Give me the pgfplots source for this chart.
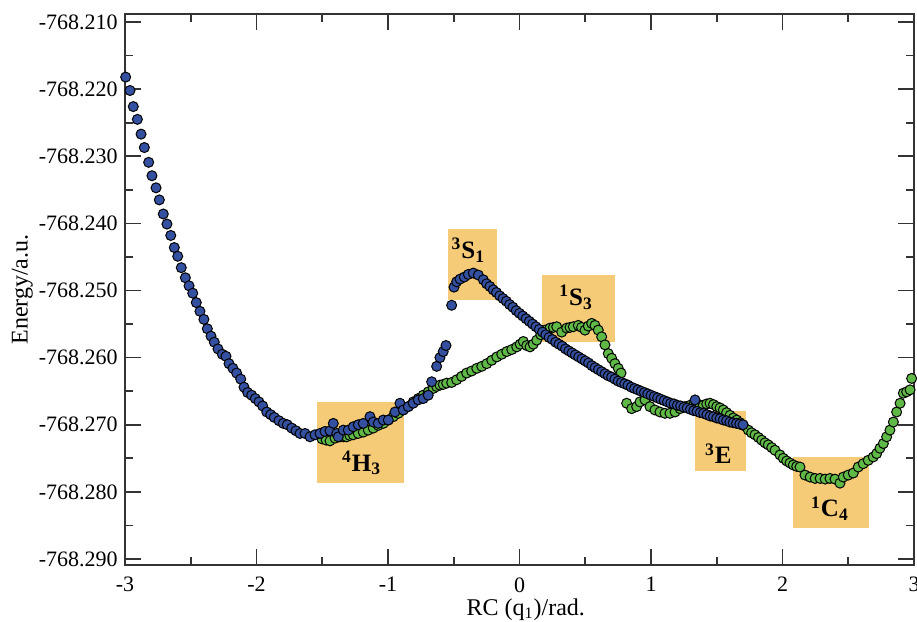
\documentclass[border=0pt]{standalone}
\usepackage{fontspec}
\setmainfont{Liberation Serif}
\usepackage{pgfplots}
\pgfplotsset{compat=1.18}

\definecolor{blueM}{RGB}{52,80,160}
\definecolor{greenM}{RGB}{95,185,70}
\definecolor{boxO}{RGB}{246,203,120}

% energies are stored as E + 768 (a.u.) to keep pgfplots' precision
\begin{document}
\begin{tikzpicture}
\begin{axis}[
  set layers,
  scale only axis,
  width=394.5pt, height=275.5pt,
  xmin=-3, xmax=3,
  ymin=-0.2909, ymax=-0.2088,
  clip=false,
  xtick={-3,-2,-1,0,1,2,3},
  xticklabels={-3,-2,-1,0,1,2,3},
  ytick={-0.29,-0.28,-0.27,-0.26,-0.25,-0.24,-0.23,-0.22,-0.21},
  yticklabels={-768.290,-768.280,-768.270,-768.260,-768.250,-768.240,-768.230,-768.220,-768.210},
  minor x tick num=1, minor y tick num=1,
  tick align=inside,
  major tick length=8pt, minor tick length=4pt,
  tick style={black!80, line width=0.8pt},
  axis line style={black!80, line width=1pt},
  ticklabel style={font=\fontsize{11}{13}\selectfont},
  yticklabel style={anchor=east, inner sep=0pt, xshift=-3.5pt},
  xticklabel style={anchor=north, inner sep=0pt, yshift=-6pt},
  xlabel={RC (q\textsubscript{1})/rad.},
  ylabel={Energy/a.u.},
  label style={font=\fontsize{12}{14}\selectfont},
  xlabel style={at={(axis description cs:0.508,-0.060)}, anchor=north, inner sep=0pt},
  ylabel style={at={(axis description cs:-0.1300,0.5)}, anchor=center, inner sep=0pt},
]

% conformation boxes
\fill[boxO, on layer=axis background] (axis cs:-1.542,-0.26667) rectangle (axis cs:-0.876,-0.27864);
\fill[boxO, on layer=axis background] (axis cs:-0.541,-0.24089) rectangle (axis cs:-0.173,-0.25142);
\fill[boxO, on layer=axis background] (axis cs:0.173,-0.24770) rectangle (axis cs:0.726,-0.25764);
\fill[boxO, on layer=axis background] (axis cs:1.335,-0.26792) rectangle (axis cs:1.720,-0.27686);
\fill[boxO, on layer=axis background] (axis cs:2.078,-0.27486) rectangle (axis cs:2.660,-0.28544);

% green series
\addplot[only marks, mark=*, mark size=2.5pt, mark options={draw=black, fill=greenM, line width=0.5pt}] coordinates {
(-1.502,-0.2721) (-1.470,-0.2723) (-1.441,-0.2724) (-1.403,-0.2720) (-1.365,-0.2718)
(-1.340,-0.2718) (-1.314,-0.2718) (-1.290,-0.2716) (-1.264,-0.2715) (-1.226,-0.2713)
(-1.188,-0.2711) (-1.150,-0.2708) (-1.112,-0.2705) (-1.074,-0.2701) (-1.036,-0.2698)
(-0.998,-0.2693) (-0.960,-0.2688) (-0.922,-0.2683) (-0.884,-0.2678) (-0.846,-0.2673)
(-0.808,-0.2666) (-0.770,-0.2661) (-0.732,-0.2656) (-0.694,-0.2651) (-0.656,-0.2646)
(-0.630,-0.2643) (-0.605,-0.2641) (-0.580,-0.2640) (-0.554,-0.2638) (-0.516,-0.2637)
(-0.478,-0.2633) (-0.440,-0.2628) (-0.402,-0.2623) (-0.364,-0.2620) (-0.325,-0.2616)
(-0.287,-0.2613) (-0.249,-0.2609) (-0.211,-0.2604) (-0.173,-0.2599) (-0.135,-0.2595)
(-0.097,-0.2591) (-0.059,-0.2588) (-0.021,-0.2584) (0.005,-0.2580) (0.029,-0.2576)
(0.055,-0.2582) (0.080,-0.2584) (0.105,-0.2580) (0.131,-0.2574) (0.162,-0.2566)
(0.194,-0.2559) (0.232,-0.2556) (0.258,-0.2555) (0.283,-0.2554) (0.321,-0.2562)
(0.359,-0.2556) (0.384,-0.2555) (0.409,-0.2554) (0.447,-0.2552) (0.472,-0.2555)
(0.498,-0.2559) (0.523,-0.2553) (0.549,-0.2549) (0.574,-0.2552) (0.599,-0.2559)
(0.625,-0.2569) (0.650,-0.2581) (0.675,-0.2594) (0.701,-0.2601) (0.726,-0.2609)
(0.751,-0.2616) (0.772,-0.2623)
(0.815,-0.2668) (0.853,-0.2676) (0.891,-0.2673) (0.916,-0.2666) (0.954,-0.2663)
(0.992,-0.2673) (1.030,-0.2678) (1.068,-0.2681) (1.106,-0.2683) (1.144,-0.2683)
(1.183,-0.2681) (1.221,-0.2676) (1.259,-0.2673) (1.297,-0.2671) (1.322,-0.2671)
(1.348,-0.2671) (1.373,-0.2671) (1.398,-0.2671) (1.424,-0.2669) (1.449,-0.2668)
(1.475,-0.2670) (1.500,-0.2673) (1.525,-0.2675) (1.550,-0.2678) (1.575,-0.2682)
(1.601,-0.2686) (1.626,-0.2690) (1.652,-0.2693) (1.677,-0.2697) (1.702,-0.2701)
(1.740,-0.2708) (1.765,-0.2712) (1.791,-0.2715) (1.817,-0.2719) (1.842,-0.2723)
(1.867,-0.2727) (1.892,-0.2730) (1.918,-0.2734) (1.943,-0.2738) (1.981,-0.2745)
(2.006,-0.2750) (2.032,-0.2754) (2.057,-0.2757) (2.082,-0.2760) (2.108,-0.2762)
(2.133,-0.2763) (2.171,-0.2775) (2.210,-0.2778) (2.248,-0.2780) (2.286,-0.2780)
(2.324,-0.2781) (2.361,-0.2780) (2.399,-0.2781) (2.437,-0.2787) (2.462,-0.2778)
(2.500,-0.2775) (2.538,-0.2772) (2.576,-0.2763) (2.614,-0.2758) (2.652,-0.2753)
(2.690,-0.2748) (2.716,-0.2743) (2.741,-0.2735) (2.767,-0.2728) (2.792,-0.2718)
(2.817,-0.2708) (2.843,-0.2696) (2.868,-0.2681) (2.894,-0.2668) (2.919,-0.2653)
(2.944,-0.2651) (2.970,-0.2648) (2.982,-0.2631)
};

% blue series
\addplot[only marks, mark=*, mark size=2.5pt, mark options={draw=black, fill=blueM, line width=0.5pt}] coordinates {
(-2.995,-0.2182) (-2.962,-0.2202) (-2.937,-0.2226) (-2.906,-0.2245) (-2.878,-0.2267)
(-2.853,-0.2287) (-2.820,-0.2309) (-2.795,-0.2329) (-2.764,-0.2347) (-2.739,-0.2365)
(-2.709,-0.2386) (-2.681,-0.2401) (-2.652,-0.2418) (-2.625,-0.2436) (-2.599,-0.2449)
(-2.572,-0.2466) (-2.541,-0.2481) (-2.513,-0.2493) (-2.485,-0.2504) (-2.458,-0.2518)
(-2.430,-0.2531) (-2.400,-0.2543) (-2.374,-0.2557) (-2.346,-0.2568) (-2.321,-0.2577)
(-2.293,-0.2587) (-2.260,-0.2595) (-2.232,-0.2598) (-2.209,-0.2609) (-2.179,-0.2616)
(-2.151,-0.2623) (-2.120,-0.2632) (-2.095,-0.2644) (-2.067,-0.2652) (-2.037,-0.2656)
(-2.009,-0.2661) (-1.981,-0.2666) (-1.953,-0.2672) (-1.922,-0.2681) (-1.892,-0.2685)
(-1.865,-0.2689) (-1.829,-0.2694) (-1.796,-0.2698) (-1.766,-0.2700) (-1.732,-0.2705)
(-1.700,-0.2709) (-1.669,-0.2713) (-1.631,-0.2713) (-1.593,-0.2718) (-1.555,-0.2715)
(-1.517,-0.2713) (-1.479,-0.2710) (-1.441,-0.2709) (-1.416,-0.2698) (-1.390,-0.2713)
(-1.378,-0.2718) (-1.340,-0.2708) (-1.302,-0.2708) (-1.264,-0.2703) (-1.226,-0.2700)
(-1.188,-0.2698) (-1.137,-0.2688) (-1.112,-0.2696) (-1.074,-0.2698) (-1.036,-0.2693)
(-0.998,-0.2693) (-0.947,-0.2681) (-0.909,-0.2668) (-0.884,-0.2678) (-0.846,-0.2673)
(-0.808,-0.2668) (-0.770,-0.2663) (-0.732,-0.2661) (-0.694,-0.2656) (-0.668,-0.2636)
(-0.630,-0.2613) (-0.605,-0.2600) (-0.580,-0.2591) (-0.559,-0.2582) (-0.516,-0.2522)
(-0.498,-0.2495) (-0.478,-0.2487) (-0.452,-0.2483) (-0.420,-0.2480) (-0.389,-0.2476)
(-0.351,-0.2474) (-0.313,-0.2477) (-0.275,-0.2484)
(-0.250,-0.2490) (-0.225,-0.2494) (-0.200,-0.2499) (-0.175,-0.2503) (-0.150,-0.2508)
(-0.125,-0.2512) (-0.100,-0.2516) (-0.075,-0.2521) (-0.050,-0.2525) (-0.025,-0.2530)
(0.000,-0.2534) (0.025,-0.2538) (0.050,-0.2542) (0.075,-0.2546) (0.100,-0.2550)
(0.125,-0.2554) (0.150,-0.2558) (0.175,-0.2562) (0.200,-0.2566) (0.225,-0.2570)
(0.250,-0.2573) (0.275,-0.2577) (0.300,-0.2580) (0.325,-0.2583) (0.350,-0.2587)
(0.375,-0.2590) (0.400,-0.2593) (0.425,-0.2596) (0.450,-0.2599) (0.475,-0.2602)
(0.500,-0.2605) (0.525,-0.2608) (0.550,-0.2612) (0.575,-0.2615) (0.600,-0.2618)
(0.625,-0.2621) (0.650,-0.2624) (0.675,-0.2627) (0.700,-0.2629) (0.725,-0.2632)
(0.750,-0.2635) (0.775,-0.2637) (0.800,-0.2639) (0.825,-0.2641) (0.850,-0.2644)
(0.875,-0.2646) (0.900,-0.2648) (0.925,-0.2650) (0.950,-0.2652) (0.975,-0.2654)
(1.000,-0.2656) (1.025,-0.2658) (1.050,-0.2660) (1.075,-0.2662) (1.100,-0.2664)
(1.125,-0.2666) (1.150,-0.2668) (1.175,-0.2669) (1.200,-0.2671) (1.225,-0.2672)
(1.250,-0.2674) (1.275,-0.2675) (1.300,-0.2677) (1.325,-0.2679) (1.335,-0.2663)
(1.350,-0.2680) (1.375,-0.2682) (1.400,-0.2683) (1.425,-0.2685) (1.450,-0.2687)
(1.475,-0.2688) (1.500,-0.2690) (1.525,-0.2691) (1.550,-0.2693) (1.575,-0.2694)
(1.600,-0.2696) (1.625,-0.2697) (1.650,-0.2698) (1.675,-0.2699) (1.700,-0.2700)
};

% conformation labels
\begin{scope}[every node/.style={font=\fontsize{12.5}{14}\selectfont\bfseries, inner sep=0pt}]
\node at (axis cs:-1.200,-0.2757) {\textsuperscript{4}H\textsubscript{3}};
\node at (axis cs:-0.389,-0.2440) {\textsuperscript{3}S\textsubscript{1}};
\node at (axis cs:0.430,-0.2510) {\textsuperscript{1}S\textsubscript{3}};
\node at (axis cs:1.512,-0.2743) {\textsuperscript{3}E};
\node at (axis cs:2.361,-0.2825) {\textsuperscript{1}C\textsubscript{4}};
\end{scope}
\end{axis}
\pgfresetboundingbox
\path[use as bounding box] ([xshift=-62.5pt,yshift=-28pt]current axis.south west) rectangle ([xshift=1.5pt,yshift=7pt]current axis.north east);
\end{tikzpicture}
\end{document}
